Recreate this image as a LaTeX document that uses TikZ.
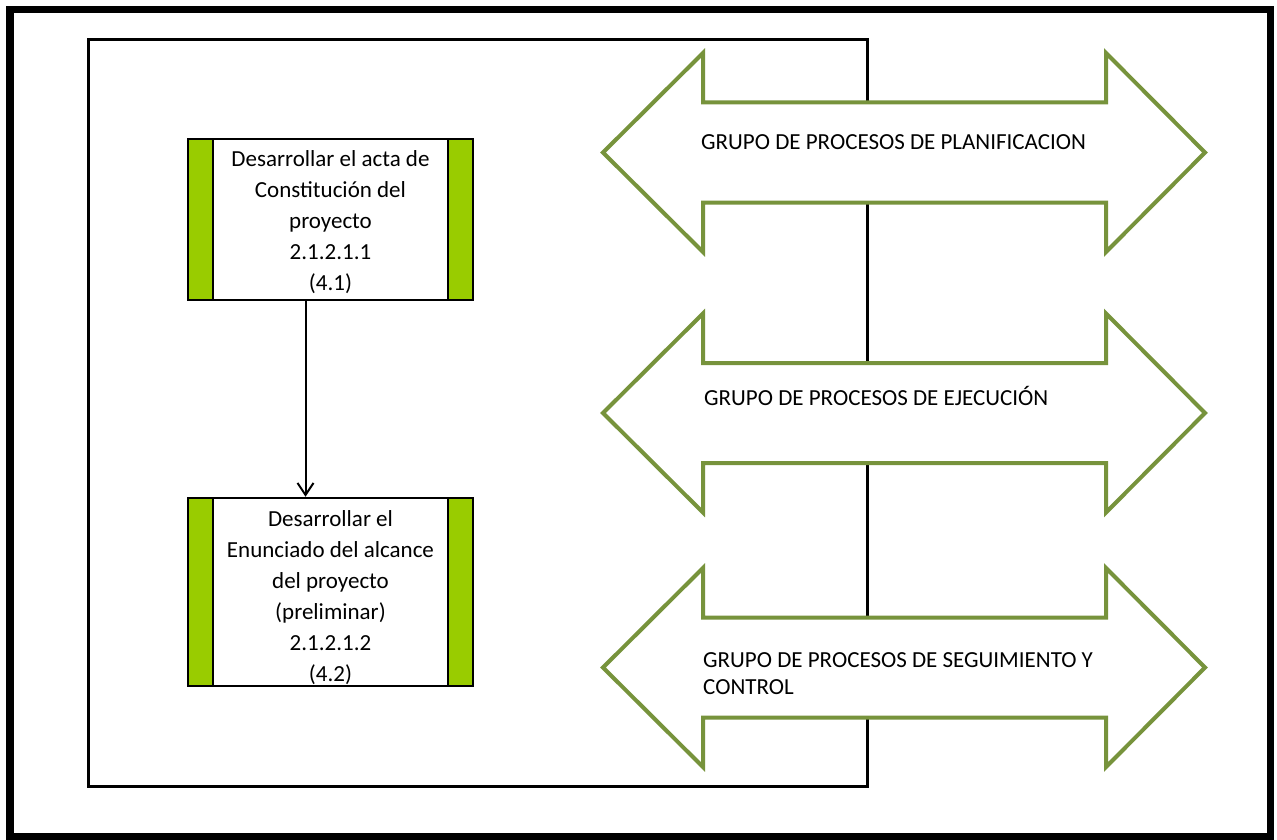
\documentclass[tikz,border=0pt]{standalone}
\usepackage{fontspec}
\setmainfont{Carlito}
\usetikzlibrary{arrows.meta}
\definecolor{bargreen}{HTML}{99CC00}
\definecolor{olivegreen}{HTML}{77933C}
\begin{document}
\begin{tikzpicture}[x=1pt,y=-1pt,
  procbox/.style={draw=black, line width=2.5pt, fill=white, minimum width=285pt,
    inner sep=0pt,
    path picture={
      \draw[line width=1.5pt, fill=bargreen] (path picture bounding box.north west) rectangle ([xshift=25pt]path picture bounding box.south west);
      \draw[line width=1.5pt, fill=bargreen] (path picture bounding box.north east) rectangle ([xshift=-25pt]path picture bounding box.south east);}},
  proctext/.style={align=center, inner sep=0pt, font=\fontsize{23}{31}\selectfont},
  arrowline/.style={draw=olivegreen, line width=4pt, fill=white},
  grptext/.style={font=\fontsize{23}{27.5}\selectfont, inner sep=0pt},
  flow/.style={line width=2pt, -{Straight Barb[length=12pt,width=16pt,line width=2pt]}},
  dblarrow/.pic={\path[arrowline] (603,0) -- (703,-99.5) -- (703,-50) -- (1106,-50) -- (1106,-99.5) -- (1205,0) -- (1106,99.5) -- (1106,50) -- (703,50) -- (703,99.5) -- cycle;}
]
\useasboundingbox (0,0) rectangle (1277,840);
\fill[white] (0,0) rectangle (1277,840);
% outer frame
\draw[line width=7.5pt] (10,9.5) rectangle (1270.5,837);
% inner frame
\draw[line width=3pt] (88.5,39.5) rectangle (867.5,786);
% double arrows
\pic at (0,152.5) {dblarrow};
\pic at (0,413) {dblarrow};
\pic at (0,667.5) {dblarrow};
\node[grptext, anchor=base west] (g1) at (701,149.5) {GRUPO DE PROCESOS DE PLANIFICACION};
\node[grptext, anchor=base west] (g2) at (704,405) {GRUPO DE PROCESOS DE EJECUCIÓN};
\node[grptext, anchor=base west, align=left] (g3) at (703,694.5) {GRUPO DE PROCESOS DE SEGUIMIENTO Y\\CONTROL};
% process boxes
\node[procbox, minimum height=161pt] (b1) at (330.5,219.5) {};
\node[proctext, anchor=base] (t1) at (330.5,290)
  {Desarrollar el acta de\\Constitución del\\proyecto\\2.1.2.1.1\\(4.1)};
\node[procbox, minimum height=188pt] (b2) at (330.5,592) {};
\node[proctext, anchor=base] (t2) at (330.5,681.5)
  {Desarrollar el\\Enunciado del alcance\\del proyecto\\(preliminar)\\2.1.2.1.2\\(4.2)};
% connector
\draw[flow] ([xshift=-25pt]b1.south) -- ([xshift=-25pt]b2.north);
\end{tikzpicture}
\end{document}
